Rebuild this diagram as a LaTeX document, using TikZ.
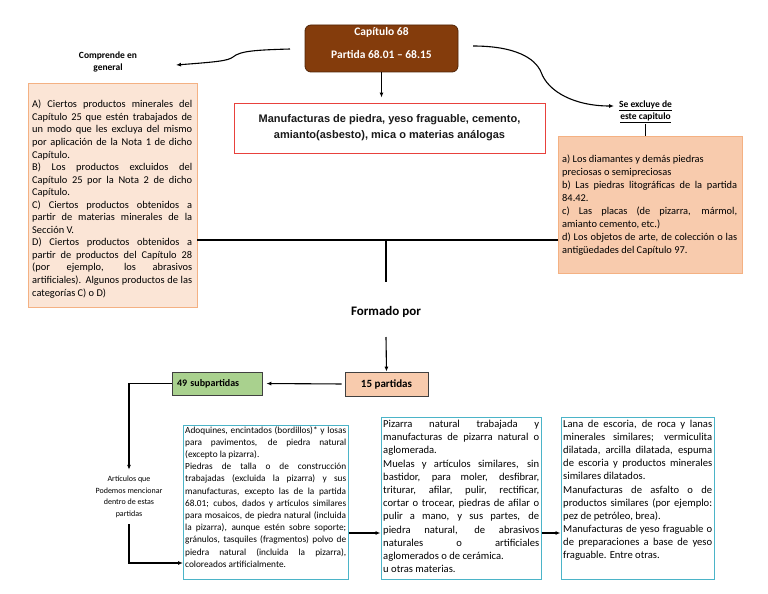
\documentclass[tikz,border=0pt]{standalone}
\usepackage{fontspec}
\setmainfont{Carlito}
\newfontfamily\arialf{Liberation Sans}
\usetikzlibrary{arrows.meta}
\definecolor{capbrown}{HTML}{843C0C}
\definecolor{lfill}{HTML}{FBE5D6}
\definecolor{rfill}{HTML}{F8CBAD}
\definecolor{oborder}{HTML}{F4B183}
\definecolor{gfill}{HTML}{A9D18E}
\definecolor{redb}{HTML}{E8413C}
\definecolor{cyanb}{HTML}{4BB4C8}
\setlength{\parindent}{0pt}
\newcommand\jset{\pretolerance=-1\tolerance=10000\hyphenpenalty=10000\hbadness=10000\parindent=0pt\relax}
\begin{document}
\begin{tikzpicture}[x=1pt,y=-1pt,
  conn/.style={line width=1.1pt, draw=black},
  arr/.style={conn, -{Latex[length=5pt,width=4pt]}},
  jtext/.style={anchor=north west, inner sep=0pt, align=justify, text=black},
  capbox/.style={draw=capbrown!60!black, fill=capbrown, rounded corners=6pt, minimum width=153pt, minimum height=47pt, line width=0.8pt},
  captext/.style={text=white, font=\bfseries\fontsize{11.5}{13}\selectfont, inner sep=1pt},
  orbox/.style={draw=oborder, line width=0.9pt},
  cybox/.style={draw=cyanb, line width=1pt},
  smallbox/.style={draw=black!75, line width=0.8pt},
  lbl/.style={font=\bfseries\fontsize{9.5}{12}\selectfont, align=center, inner sep=1pt}
]
\useasboundingbox (0,0) rectangle (768,594);

% top chapter box
\node[capbox] (cap) at (381.5,48.5) {};
\node[captext] (capt1) at (381.5,32) {Capítulo 68};
\node[captext] (capt2) at (381.5,54) {Partida 68.01 -- 68.15};

% title box
\node[draw=redb, line width=0.9pt, minimum width=311pt, minimum height=50pt, align=center,
      font=\arialf\bfseries\fontsize{11}{16}\selectfont, text=black!90] (manuf) at (389.5,128)
  {Manufacturas de piedra, yeso fraguable, cemento,\\amianto(asbesto), mica o materias análogas};
\draw[arr, shorten >=5pt] (cap.south) -- (cap.south |- manuf.north);

% left branch
\node[lbl] (comp) at (108,62) {Comprende en\\general};
\coordinate (cl) at (290,49);
\coordinate (tipL) at (176,65);
\draw[arr] (cl) .. controls (255,50) and (240,51) .. (233,57) .. controls (228,61) and (215,62) .. (tipL);

\node[orbox, fill=lfill, minimum width=169pt, minimum height=224pt] (lbox) at (112.5,195) {};
\node[jtext, text width=160pt, font=\fontsize{10.4}{12.55}\selectfont\jset] (ltext) at (32,100) {%
A) Ciertos productos minerales del\linebreak
Capítulo 25 que estén trabajados de\linebreak
un modo que les excluya del mismo\linebreak
por aplicación de la Nota 1 de dicho\linebreak
Capítulo.\\
B) Los productos excluidos del\linebreak
Capítulo 25 por la Nota 2 de dicho\linebreak
Capítulo.\\
C) Ciertos productos obtenidos a\linebreak
partir de materias minerales de la\linebreak
Sección V.\\
D) Ciertos productos obtenidos a\linebreak
partir de productos del Capítulo 28\linebreak
(por ejemplo, los abrasivos\linebreak
artificiales). Algunos productos de las\linebreak
categorías C) o D)};

% right branch
\node[lbl] (excl) at (645.5,112) {\underline{Se excluye de}\\\underline{este capitulo}};
\coordinate (cr) at (473,46);
\coordinate (tipR) at (614,106);
\draw[arr] (cr) .. controls (515,46) and (535,58) .. (541,72) .. controls (548,92) and (575,106) .. (tipR);

\node[orbox, fill=rfill, minimum width=184pt, minimum height=137pt] (rbox) at (650,204.5) {};
\draw[conn] (excl.south) -- (excl.south |- rbox.north);
\node[jtext, text width=175pt, font=\fontsize{10.4}{12.9}\selectfont\jset] (rtext) at (562,155) {%
a) Los diamantes y demás piedras\\
preciosas o semipreciosas\\
b) Las piedras litográficas de la partida\linebreak
84.42.\\
c) Las placas (de pizarra, mármol,\linebreak
amianto cemento, etc.)\\
d) Los objetos de arte, de colección o las\linebreak
antigüedades del Capítulo 97.};

% trunk
\coordinate (hm) at (386,240);
\coordinate (hv) at (386,282);
\draw[line width=1.4pt] (lbox.east |- hm) -- (rbox.west |- hm);
\draw[line width=1.4pt] (hm) -- (hv);
\node[font=\bfseries\fontsize{13}{15}\selectfont] (form) at (386,312) {Formado por};

\node[smallbox, fill=rfill, minimum width=83pt, minimum height=24pt, font=\bfseries\fontsize{11}{13}\selectfont] (p15) at (386.5,384) {15 partidas};
\coordinate (fa) at (386,337);
\draw[arr] (fa) -- (p15.north);

\node[smallbox, fill=gfill, text width=80pt, align=left, inner xsep=5pt, minimum height=23pt, font=\bfseries\fontsize{10}{12}\selectfont] (p49) at (217,383.5) {49 subpartidas};
\draw[arr, shorten <=3pt, shorten >=4pt] (p15.west) -- (p49.east);

\node[align=center, inner xsep=1pt, inner ysep=6pt, font=\fontsize{8}{11.7}\selectfont, text=black] (art) at (129,497)
  {Artículos que\\Podemos mencionar\\dentro de estas\\partidas};
\draw[arr] (p49.west) -| (art.north);

% bottom boxes
\node[cybox, minimum width=165pt, minimum height=154pt] (box1) at (265.5,502) {};
\node[cybox, minimum width=160pt, minimum height=162pt] (box2) at (461,498) {};
\node[cybox, minimum width=153pt, minimum height=162pt] (box3) at (637.5,498) {};

\coordinate (b1in) at (183,563);
\draw[arr] (art.south) |- (b1in);
\coordinate (r533) at (0,533);
\draw[arr] (box1.east |- r533) -- (box2.west |- r533);
\draw[arr] (box2.east |- r533) -- (box3.west |- r533);

\node[jtext, text width=161pt, font=\fontsize{9.3}{12.2}\selectfont\jset] (t1) at (185,426) {%
Adoquines, encintados (bordillos)* y losas\linebreak
para pavimentos, de piedra natural\linebreak
(excepto la pizarra).\\
Piedras de talla o de construcción\linebreak
trabajadas (excluida la pizarra) y sus\linebreak
manufacturas, excepto las de la partida\linebreak
68.01; cubos, dados y artículos similares\linebreak
para mosaicos, de piedra natural (incluida\linebreak
la pizarra), aunque estén sobre soporte;\linebreak
gránulos, tasquiles (fragmentos) polvo de\linebreak
piedra natural (incluida la pizarra),\linebreak
coloreados artificialmente.};

\node[jtext, text width=156pt, font=\fontsize{10.6}{13.2}\selectfont\jset] (t2) at (383,420) {%
Pizarra natural trabajada y\linebreak
manufacturas de pizarra natural o\linebreak
aglomerada.\\
Muelas y artículos similares, sin\linebreak
bastidor, para moler, desfibrar,\linebreak
triturar, afilar, pulir, rectificar,\linebreak
cortar o trocear, piedras de afilar o\linebreak
pulir a mano, y sus partes, de\linebreak
piedra natural, de abrasivos\linebreak
naturales o artificiales\linebreak
aglomerados o de cerámica.\\
u otras materias.};

\node[jtext, text width=149pt, font=\fontsize{10.6}{13.1}\selectfont\jset] (t3) at (563,420) {%
Lana de escoria, de roca y lanas\linebreak
minerales similares; vermiculita\linebreak
dilatada, arcilla dilatada, espuma\linebreak
de escoria y productos minerales\linebreak
similares dilatados.\\
Manufacturas de asfalto o de\linebreak
productos similares (por ejemplo:\linebreak
pez de petróleo, brea).\\
Manufacturas de yeso fraguable o\linebreak
de preparaciones a base de yeso\linebreak
fraguable. Entre otras.};
\end{tikzpicture}
\end{document}
